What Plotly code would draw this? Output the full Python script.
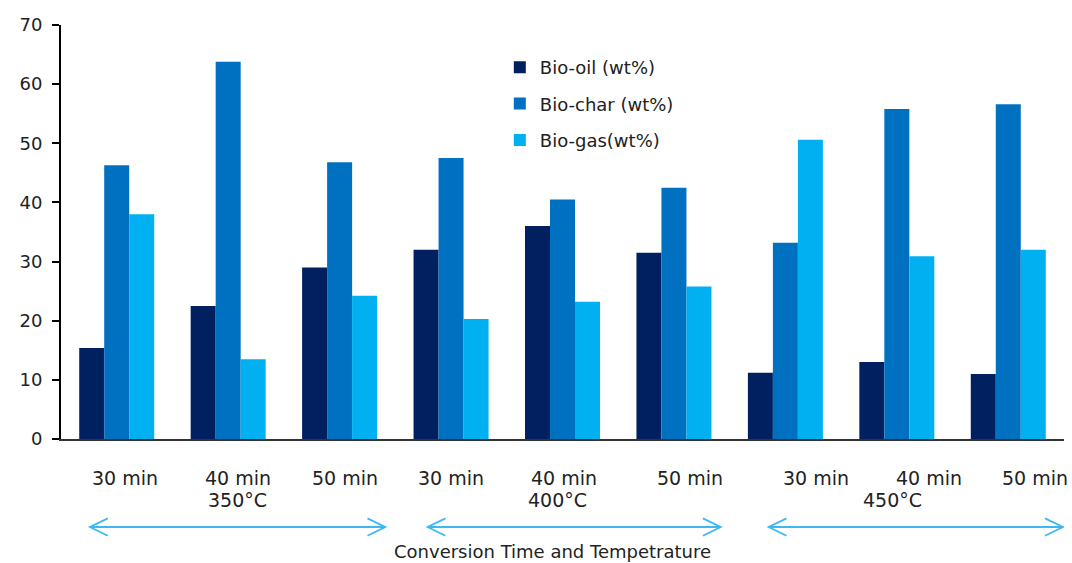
import plotly.graph_objects as go

# Pyrolysis product yields by conversion time and temperature
time_labels = ["30 min", "40 min", "50 min"] * 3
temperatures = ["350°C", "400°C", "450°C"]
bio_oil = [15.4, 22.5, 29.0, 32.0, 36.0, 31.5, 11.2, 13.0, 11.0]
bio_char = [46.3, 63.8, 46.8, 47.5, 40.5, 42.5, 33.2, 55.8, 56.6]
bio_gas = [38.0, 13.5, 24.2, 20.3, 23.2, 25.8, 50.6, 30.9, 32.0]
y_ticks = [0, 10, 20, 30, 40, 50, 60, 70]

# hand-placed text nudges (pixels) for the labels below the axis
time_label_shift = [8, 10, 5, 0, 1, 16, 31, 32, 27]
temp_label_shift = [9, -5, -4]

FONT = "DejaVu Sans"
TEXT = "#222222"
x = list(range(len(time_labels)))

fig = go.Figure()
series = [
    ("Bio-oil (wt%)", bio_oil, "#002060"),
    ("Bio-char (wt%)", bio_char, "#0070C0"),
    ("Bio-gas(wt%)", bio_gas, "#00B0F0"),
]
for i, (name, vals, col) in enumerate(series):
    fig.add_trace(go.Bar(
        x=x, y=vals, name=name, marker=dict(color=col, line=dict(width=0)),
        legendgroup=f"g{i}",
    ))

annotations = []
for xi, lab, dx in zip(x, time_labels, time_label_shift):
    annotations.append(dict(
        x=xi, y=-0.094, xref="x", yref="paper", text=lab, showarrow=False, xshift=dx,
        font=dict(family=FONT, size=19, color=TEXT), xanchor="center", yanchor="middle",
    ))
for k, (t, dx) in enumerate(zip(temperatures, temp_label_shift)):
    annotations.append(dict(
        x=3 * k + 1, y=-0.148, xref="x", yref="paper", text=t, showarrow=False, xshift=dx,
        font=dict(family=FONT, size=19, color=TEXT), xanchor="center", yanchor="middle",
    ))
annotations.append(dict(
    x=0.4905, y=-0.271, xref="paper", yref="paper", text="Conversion Time and Tempetrature",
    showarrow=False, font=dict(family=FONT, size=18, color=TEXT),
    xanchor="center", yanchor="middle",
))

# double-headed arrows spanning each temperature block
shapes = []
ARROW = "#3DB8F0"
arrow_y = -0.2126
head_dx = 0.16
head_dy = 0.021
spans = [(-0.24, 2.41), (2.79, 5.42), (5.85, 8.49)]
for a, b in spans:
    shapes.append(dict(type="line", xref="x", yref="paper", x0=a, x1=b, y0=arrow_y, y1=arrow_y,
                       line=dict(color=ARROW, width=1.8)))
    for tip, d in ((a, head_dx), (b, -head_dx)):
        shapes.append(dict(
            type="path", xref="x", yref="paper",
            path=f"M {tip + d} {arrow_y + head_dy} L {tip} {arrow_y} L {tip + d} {arrow_y - head_dy}",
            line=dict(color=ARROW, width=1.8),
        ))

fig.update_layout(
    width=1072, height=563,
    margin=dict(l=61, r=8, t=25, b=124),
    plot_bgcolor="white", paper_bgcolor="white",
    barmode="group", bargap=0.327, bargroupgap=0,
    font=dict(family=FONT, size=18, color=TEXT),
    showlegend=True,
    legend=dict(
        x=0.4375, y=0.942, xanchor="left", yanchor="top",
        font=dict(family=FONT, size=18, color=TEXT),
        traceorder="grouped", tracegroupgap=10,
        bgcolor="rgba(0,0,0,0)", itemwidth=30,
    ),
    annotations=annotations,
    shapes=shapes,
)
fig.update_xaxes(
    range=[-0.5, 8.5], tickvals=x, showticklabels=False, ticks="",
    showline=True, linecolor="#333333", linewidth=1.5, showgrid=False, zeroline=False,
)
fig.update_yaxes(
    range=[0, 70], tickvals=y_ticks, ticks="outside", ticklen=7, tickwidth=2, tickcolor="black",
    showline=True, linecolor="black", linewidth=2, showgrid=False, zeroline=False,
    tickfont=dict(family=FONT, size=18, color=TEXT), ticklabelstandoff=6,
)

fig.write_html("out.html")
